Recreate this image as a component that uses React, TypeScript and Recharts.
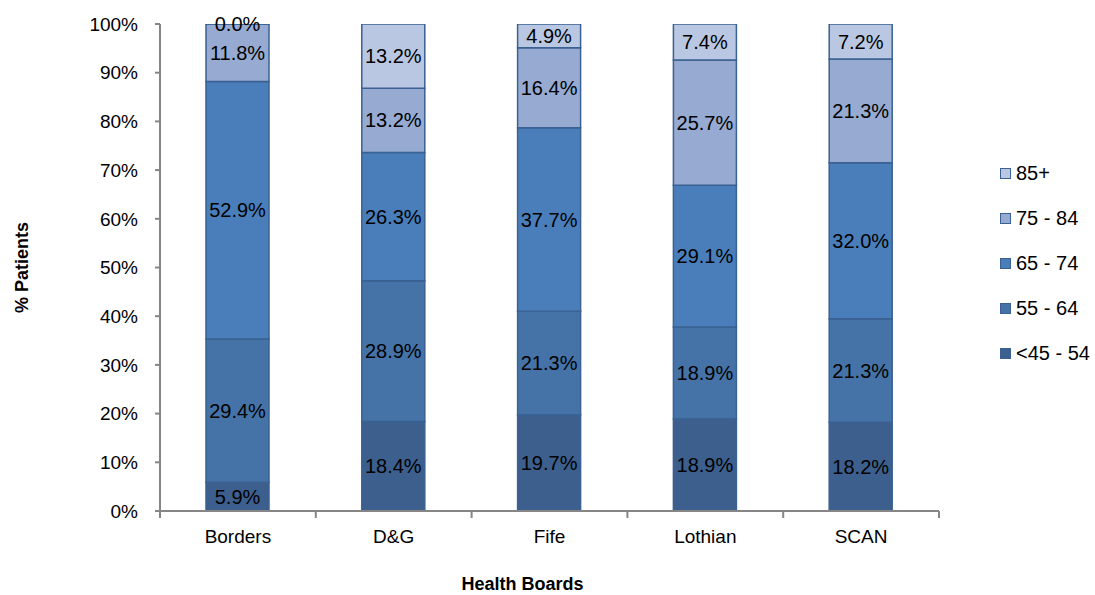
import React from 'react';
import { BarChart, Bar, XAxis, YAxis, LabelList } from 'recharts';

// health boards along the x axis
const boards = ['Borders', 'D&G', 'Fife', 'Lothian', 'SCAN'];

// % of patients in each age band, per board
const age45to54 = [5.9, 18.4, 19.7, 18.9, 18.2];
const age55to64 = [29.4, 28.9, 21.3, 18.9, 21.3];
const age65to74 = [52.9, 26.3, 37.7, 29.1, 32.0];
const age75to84 = [11.8, 13.2, 16.4, 25.7, 21.3];
const age85plus = [0.0, 13.2, 4.9, 7.4, 7.2];

const yTicks = [0, 10, 20, 30, 40, 50, 60, 70, 80, 90, 100];

const series = [
    { key: 'a45', name: '<45 - 54', values: age45to54, fill: '#3C5F8E' },
    { key: 'a55', name: '55 - 64', values: age55to64, fill: '#4573A8' },
    { key: 'a65', name: '65 - 74', values: age65to74, fill: '#4A7EBB' },
    { key: 'a75', name: '75 - 84', values: age75to84, fill: '#96AAD2' },
    { key: 'a85', name: '85+', values: age85plus, fill: '#BAC7E2' },
];

const data = boards.map((board, i) => {
    const row: Record<string, string | number> = { board };
    series.forEach(s => { row[s.key] = s.values[i]; });
    return row;
});

const FONT = '"Liberation Sans", Arial, sans-serif';
const AXIS_GREY = '#868686';
const EDGE = '#3A6191';
const TICK_LEN = 7;

// category label plus the little marks between the bands
const BoardTick = (props: any) => {
    const { x, y, payload, index, visibleTicksCount, width } = props;
    const half = width / visibleTicksCount / 2;
    const top = y - TICK_LEN;
    return (
        <g>
            <line x1={x - half} x2={x - half} y1={top} y2={y} stroke={AXIS_GREY} strokeWidth={2} />
            {index === visibleTicksCount - 1 && (
                <line x1={x + half} x2={x + half} y1={top} y2={y} stroke={AXIS_GREY} strokeWidth={2} />
            )}
            <text x={x} y={y + 25} textAnchor="middle" fontFamily={FONT} fontSize={19} fill="#000">
                {payload.value}
            </text>
        </g>
    );
};

// value label in the middle of a segment (also for empty segments)
const SegmentLabel = (props: any) => {
    const { x, y, width, height, value } = props;
    return (
        <text x={x + width / 2} y={y + height / 2} dy={7} textAnchor="middle"
            fontFamily={FONT} fontSize={20} fill="#000">
            {`${Number(value).toFixed(1)}%`}
        </text>
    );
};

const AgeLegend = () => (
    <div style={{ position: 'absolute', left: 1000, top: 151, fontFamily: FONT, fontSize: 20, color: '#000' }}>
        {[...series].reverse().map(s => (
            <div key={s.key} style={{ display: 'flex', alignItems: 'center', height: 45, whiteSpace: 'nowrap' }}>
                <span style={{
                    display: 'inline-block', width: 9, height: 9, marginRight: 5,
                    background: s.fill, border: `1.5px solid ${EDGE}`,
                }} />
                {s.name}
            </div>
        ))}
    </div>
);

export default function App() {
    return (
        <div style={{ position: 'absolute', left: 0, top: 0, width: 1095, height: 595, background: '#fff' }}>
            <BarChart width={1095} height={595} data={data} barSize={63}
                margin={{ top: 24, right: 156, left: 0, bottom: 0 }}>
                <XAxis dataKey="board" height={84} tickLine={false} tickSize={TICK_LEN} tickMargin={0}
                    axisLine={{ stroke: AXIS_GREY, strokeWidth: 2 }} tick={<BoardTick />} interval={0}
                    label={{ value: 'Health Boards', position: 'insideBottom', offset: 5, dx: -27,
                        style: { fontFamily: FONT, fontSize: 18, fontWeight: 'bold', fill: '#000' } }} />
                <YAxis width={160} domain={[0, 100]} ticks={yTicks} tickFormatter={v => `${v}%`}
                    tickSize={5} tickMargin={17} allowDataOverflow
                    axisLine={{ stroke: AXIS_GREY, strokeWidth: 2 }} tickLine={{ stroke: AXIS_GREY, strokeWidth: 2 }}
                    tick={{ fontFamily: FONT, fontSize: 19, fill: '#000' }}
                    label={{ value: '% Patients', angle: -90, position: 'insideLeft', offset: 22,
                        style: { fontFamily: FONT, fontSize: 18, fontWeight: 'bold', fill: '#000', textAnchor: 'middle' } }} />
                {series.map(s => (
                    <Bar key={s.key} dataKey={s.key} name={s.name} stackId="age" fill={s.fill}
                        stroke={EDGE} strokeWidth={1.5} minPointSize={1} isAnimationActive={false}>
                        <LabelList dataKey={s.key} content={<SegmentLabel />} />
                    </Bar>
                ))}
            </BarChart>
            <AgeLegend />
        </div>
    );
}
